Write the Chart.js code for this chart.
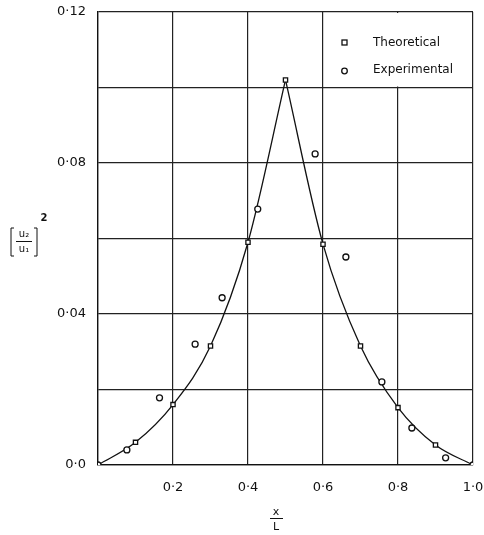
<!DOCTYPE html>
<html>
<head>
<meta charset="utf-8">
<script src="https://cdn.jsdelivr.net/npm/chart.js@4/dist/chart.umd.min.js"></script>
<style>
  body { margin: 0; background: #fff; }
</style>
</head>
<body>
<canvas id="chart-1" width="484" height="535"></canvas>
<script>
// theoretical curve points (squares)
var theoX = [0, 0.1, 0.2, 0.3, 0.4, 0.5, 0.6, 0.7, 0.8, 0.9, 1.0];
var theoY = [0, 0.006, 0.016, 0.0315, 0.059, 0.102, 0.0585, 0.0315, 0.0152, 0.0053, 0];

// experimental points (circles)
var expX = [0, 0.077, 0.164, 0.259, 0.331, 0.426, 0.579, 0.661, 0.757, 0.837, 0.927, 1.0];
var expY = [0, 0.004, 0.0178, 0.032, 0.0443, 0.0678, 0.0824, 0.0551, 0.022, 0.0098, 0.0019, 0];

var yTickValues = [0, 0.04, 0.08, 0.12];
var yTickLabels = ["0·0", "0·04", "0·08", "0·12"];
var xTickValues = [0.2, 0.4, 0.6, 0.8, 1.0];
var xTickLabels = ["0·2", "0·4", "0·6", "0·8", "1·0"];

var legendLabels = ["Theoretical", "Experimental"];

var FONT = "'DejaVu Sans', sans-serif";

function pts(xs, ys) {
  return xs.map(function (x, i) { return { x: x, y: ys[i] }; });
}
function lookup(values, labels, v) {
  for (var i = 0; i < values.length; i++) {
    if (Math.abs(values[i] - v) < 1e-6) return labels[i];
  }
  return "";
}

var peak = theoY.indexOf(Math.max.apply(null, theoY));
var theoPts = pts(theoX, theoY);

// white legend cell in the top right + axis titles
var decorPlugin = {
  id: "decor",
  beforeDatasetsDraw: function (chart) {
    var c = chart.ctx, xs = chart.scales.x, ys = chart.scales.y;
    var l = xs.getPixelForValue(0.6), r = xs.getPixelForValue(1.0);
    var t = ys.getPixelForValue(0.12), b = ys.getPixelForValue(0.10);
    c.save();
    c.fillStyle = "#fff";
    c.fillRect(l + 1, t + 1, r - l - 2, b - t - 2);
    // markers
    c.strokeStyle = "#111";
    c.lineWidth = 1.3;
    c.strokeRect(l + 19, t + 28, 5, 5);
    c.beginPath();
    c.arc(l + 21.5, t + 59, 2.8, 0, Math.PI * 2);
    c.stroke();
    c.fillStyle = "#111";
    c.font = "12px " + FONT;
    c.textBaseline = "middle";
    c.textAlign = "left";
    c.fillText(legendLabels[0], l + 50, t + 31);
    c.fillText(legendLabels[1], l + 50, t + 58);
    c.restore();
  },
  afterDraw: function (chart) {
    var c = chart.ctx;
    c.save();
    c.fillStyle = "#111";
    c.strokeStyle = "#111";
    c.textAlign = "center";
    c.textBaseline = "middle";
    // y title: [u2/u1]^2
    c.font = "10px " + FONT;
    c.fillText("u\u2082", 24, 234);
    c.fillText("u\u2081", 24, 249);
    c.lineWidth = 1;
    c.beginPath();
    c.moveTo(16, 241.5); c.lineTo(32, 241.5);
    // brackets
    c.moveTo(14, 228); c.lineTo(11, 228); c.lineTo(11, 256); c.lineTo(14, 256);
    c.moveTo(34, 228); c.lineTo(37, 228); c.lineTo(37, 256); c.lineTo(34, 256);
    c.stroke();
    c.font = "bold 10px " + FONT;
    c.fillText("2", 44, 218);
    // x title: x/L
    c.font = "11px " + FONT;
    c.fillText("x", 276, 512);
    c.beginPath();
    c.moveTo(270, 518.5); c.lineTo(283, 518.5);
    c.stroke();
    c.fillText("L", 276, 527);
    c.restore();
  }
};

var chartOne = document.getElementById("chart-1").getContext("2d");
var myChart = new Chart(chartOne, {
  type: "scatter",
  data: {
    datasets: [
      {
        label: "Experimental",
        data: pts(expX, expY),
        pointStyle: "circle",
        pointRadius: 3,
        pointBorderWidth: 1.3,
        pointBackgroundColor: "#fff",
        pointBorderColor: "#111",
        order: 1,
      },
      {
        label: "Theoretical",
        data: theoPts,
        pointStyle: "rect",
        pointRadius: function (ctx) {
          var x = theoX[ctx.dataIndex];
          return x === 0 || x === 1 ? 0 : 3;
        },
        pointBorderWidth: 1.3,
        pointBackgroundColor: "#fff",
        pointBorderColor: "#111",
        order: 2,
      },
      {
        label: "curve rising",
        data: theoPts.slice(0, peak + 1),
        showLine: true,
        pointRadius: 0,
        borderColor: "#111",
        borderWidth: 1.3,
        cubicInterpolationMode: "monotone",
        order: 3,
      },
      {
        label: "curve falling",
        data: theoPts.slice(peak),
        showLine: true,
        pointRadius: 0,
        borderColor: "#111",
        borderWidth: 1.3,
        cubicInterpolationMode: "monotone",
        order: 3,
      },
    ],
  },
  options: {
    responsive: false,
    animation: false,
    layout: { padding: { left: 0, top: 12, right: 11, bottom: 0 } },
    plugins: {
      legend: { display: false },
      tooltip: { enabled: false },
    },
    scales: {
      x: {
        type: "linear",
        min: 0,
        max: 1,
        afterFit: function (s) {
          s.height = 70;
          s.paddingLeft = 0;
          s.paddingRight = 0;
        },
        border: { color: "#111", width: 1.3 },
        grid: { color: "#222", lineWidth: 1.2, drawTicks: false },
        ticks: {
          stepSize: 0.2,
          padding: 15,
          color: "#111",
          font: { family: FONT, size: 13 },
          callback: function (v) { return lookup(xTickValues, xTickLabels, v); },
        },
      },
      y: {
        min: 0,
        max: 0.12,
        afterFit: function (s) {
          s.width = 98;
          s.paddingTop = 0;
          s.paddingBottom = 0;
        },
        border: { color: "#111", width: 1.3 },
        grid: { color: "#222", lineWidth: 1.2, drawTicks: false },
        ticks: {
          stepSize: 0.02,
          autoSkip: false,
          padding: 12,
          color: "#111",
          font: { family: FONT, size: 13 },
          callback: function (v) { return lookup(yTickValues, yTickLabels, v); },
        },
      },
    },
  },
  plugins: [decorPlugin],
});
</script>
</body>
</html>
